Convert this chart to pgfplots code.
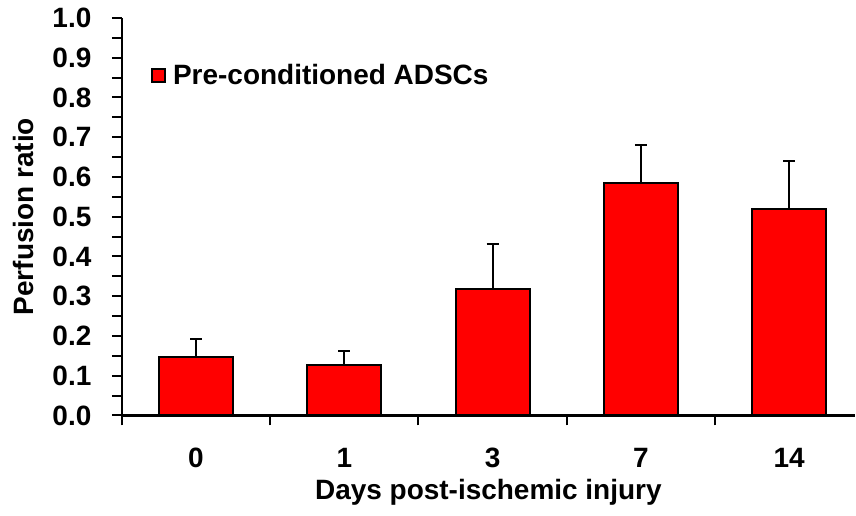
\documentclass[border=0pt]{standalone}
\usepackage{fontspec}
\setmainfont{Liberation Sans}
\usepackage{pgfplots}
\pgfplotsset{compat=1.18}

\newcommand{\bigbf}{\fontsize{28}{33}\selectfont\bfseries}

\begin{document}
\begin{tikzpicture}
\begin{axis}[
    scale only axis,
    width=734pt, height=398pt,
    xmin=-0.5, xmax=4.443,
    ymin=0, ymax=1.0,
    axis x line=bottom, axis y line=left,
    axis line style={-, line width=2.2pt},
    ybar, bar width=74pt, bar shift=0pt,
    xtick={-0.5,0.5,1.5,2.5,3.5},
    xticklabels={},
    extra x ticks={0,1,2,3,4},
    extra x tick labels={0,1,3,7,14},
    extra x tick style={major tick length=0pt},
    ytick={0,0.1,...,1.0},
    minor y tick num=1,
    tick align=outside,
    major tick length=10pt, minor tick length=10pt,
    tick style={line width=2pt, black},
    /pgf/number format/fixed,
    /pgf/number format/fixed zerofill,
    /pgf/number format/precision=1,
    /pgf/number format/assume math mode=true,
    tick label style={font=\bigbf},
    xticklabel style={yshift=-29pt},
    yticklabel style={xshift=-17pt},
    xlabel={Days post-ischemic injury},
    ylabel={Perfusion ratio},
    label style={font=\bigbf},
    xlabel style={yshift=5pt},
    ylabel style={yshift=12pt},
    legend style={at={(rel axis cs:0.04,0.855)}, anchor=west, draw=none, fill=none,
                  font=\bigbf, inner sep=0pt},
    legend image code/.code={\draw[fill=red, draw=black, line width=1.5pt] (0pt,-6.5pt) rectangle (13pt,6.5pt);
                             \path[draw=none, fill=none] (0pt,0pt) rectangle (19pt,0.1pt);},
]
\addplot[fill=red, draw=black, line width=2pt,
    error bars/.cd, y dir=plus, y explicit,
    error bar style={line width=2pt, black},
    error mark options={rotate=90, mark size=6pt, line width=2pt, black}]
    coordinates {
    (0,0.147) +- (0,0.046)
    (1,0.128) +- (0,0.034)
    (2,0.318) +- (0,0.114)
    (3,0.585) +- (0,0.096)
    (4,0.519) +- (0,0.122)
    };
\addlegendentry{Pre-conditioned ADSCs}
\end{axis}
\path ([xshift=-122pt,yshift=-100pt]current axis.south west) rectangle ([yshift=18pt]current axis.north east);
\end{tikzpicture}
\end{document}
